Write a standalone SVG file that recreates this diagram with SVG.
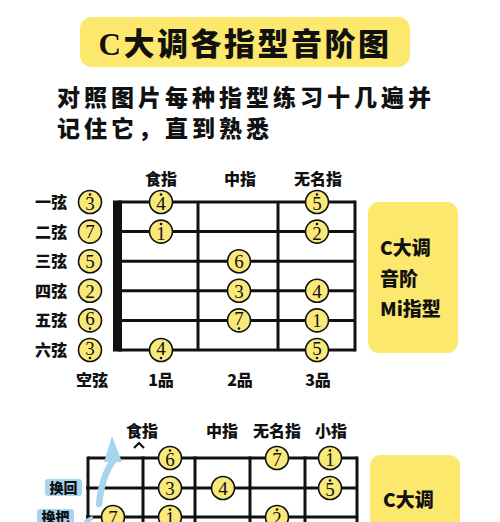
<svg xmlns="http://www.w3.org/2000/svg" width="500" height="522" viewBox="0 0 500 522">
<defs>
<style>
.cjk{font-family:"Noto Sans CJK SC","Noto Sans",sans-serif;font-weight:900;fill:#111}
.lbl{font-size:16px;text-anchor:middle}
.ln{stroke:#111;stroke-width:3;fill:none}
.nc{fill:#f9e97b;stroke:#111;stroke-width:1.6}
.nt{font-family:"Liberation Serif","DejaVu Serif",serif;font-size:19px;fill:#111;text-anchor:middle}
.dot{fill:#111}
.ybox{fill:#fbe86c}
.blue{fill:#a6d6ee}
</style>
</defs>
<rect width="500" height="522" fill="#fff"/>
<g id="title">
<rect class="ybox" x="80" y="17" width="330" height="50" rx="12"/>
<text x="245" y="55" class="cjk" font-size="31" text-anchor="middle" letter-spacing="2.5"><tspan font-family="Liberation Serif" font-weight="bold">C</tspan>大调各指型音阶图</text>
</g>
<g id="subtitle" class="cjk" font-size="23" letter-spacing="4">
<text x="57" y="106">对照图片每种指型练习十几遍并</text>
<text x="57" y="137">记住它，直到熟悉</text>
</g>
<g id="fretboard1">
<line class="ln" x1="118" y1="202" x2="355" y2="202"/>
<line class="ln" x1="118" y1="231.6" x2="355" y2="231.6"/>
<line class="ln" x1="118" y1="261.2" x2="355" y2="261.2"/>
<line class="ln" x1="118" y1="290.8" x2="355" y2="290.8"/>
<line class="ln" x1="118" y1="320.4" x2="355" y2="320.4"/>
<line class="ln" x1="118" y1="350" x2="355" y2="350"/>
<line class="ln" x1="198" y1="202" x2="198" y2="350"/>
<line class="ln" x1="278" y1="202" x2="278" y2="350"/>
<line class="ln" x1="355" y1="200.5" x2="355" y2="351.5"/>
<rect x="113" y="200.5" width="9" height="151" fill="#111"/>
</g>
<g id="labels1" class="cjk lbl">
<text x="51" y="208">一弦</text>
<text x="51" y="237.5">二弦</text>
<text x="51" y="267">三弦</text>
<text x="51" y="296.5">四弦</text>
<text x="51" y="326">五弦</text>
<text x="51" y="355.5">六弦</text>
<text x="161" y="185">食指</text>
<text x="240" y="185">中指</text>
<text x="318" y="185">无名指</text>
<text x="92" y="386">空弦</text>
<text x="161" y="386">1品</text>
<text x="240" y="386">2品</text>
<text x="318" y="386">3品</text>
</g>
<g id="notes1">
<g><circle class="nc" cx="90" cy="202" r="11.5"/><text class="nt" x="90" y="210">3</text><circle class="dot" cx="90" cy="194.5" r="1.3"/></g>
<g><circle class="nc" cx="161" cy="202" r="11.5"/><text class="nt" x="161" y="210">4</text><circle class="dot" cx="161" cy="194.5" r="1.3"/></g>
<g><circle class="nc" cx="317" cy="202" r="11.5"/><text class="nt" x="317" y="210">5</text><circle class="dot" cx="317" cy="194.5" r="1.3"/></g>
<g><circle class="nc" cx="90" cy="231.6" r="11.5"/><text class="nt" x="90" y="238">7</text></g>
<g><circle class="nc" cx="161" cy="231.6" r="11.5"/><text class="nt" x="161" y="240">1</text><circle class="dot" cx="161" cy="224" r="1.3"/></g>
<g><circle class="nc" cx="317" cy="231.6" r="11.5"/><text class="nt" x="317" y="240">2</text><circle class="dot" cx="317" cy="224" r="1.3"/></g>
<g><circle class="nc" cx="90" cy="261.2" r="11.5"/><text class="nt" x="90" y="268">5</text></g>
<g><circle class="nc" cx="239" cy="261.2" r="11.5"/><text class="nt" x="239" y="268">6</text></g>
<g><circle class="nc" cx="90" cy="290.8" r="11.5"/><text class="nt" x="90" y="297.5">2</text></g>
<g><circle class="nc" cx="239" cy="290.8" r="11.5"/><text class="nt" x="239" y="297.5">3</text></g>
<g><circle class="nc" cx="317" cy="290.8" r="11.5"/><text class="nt" x="317" y="297.5">4</text></g>
<g><circle class="nc" cx="90" cy="320.4" r="11.5"/><text class="nt" x="90" y="325">6</text><circle class="dot" cx="90" cy="328.5" r="1.3"/></g>
<g><circle class="nc" cx="239" cy="320.4" r="11.5"/><text class="nt" x="239" y="325">7</text><circle class="dot" cx="239" cy="328.5" r="1.3"/></g>
<g><circle class="nc" cx="317" cy="320.4" r="11.5"/><text class="nt" x="317" y="327">1</text></g>
<g><circle class="nc" cx="90" cy="350" r="11.5"/><text class="nt" x="90" y="354.5">3</text><circle class="dot" cx="90" cy="358" r="1.3"/></g>
<g><circle class="nc" cx="161" cy="350" r="11.5"/><text class="nt" x="161" y="354.5">4</text><circle class="dot" cx="161" cy="358" r="1.3"/></g>
<g><circle class="nc" cx="317" cy="350" r="11.5"/><text class="nt" x="317" y="354.5">5</text><circle class="dot" cx="317" cy="358" r="1.3"/></g>
</g>
<g id="box1">
<rect class="ybox" x="368" y="202" width="90" height="151" rx="11"/>
<g class="cjk" font-size="19">
<text x="380" y="255">C大调</text>
<text x="380" y="286">音阶</text>
<text x="380" y="316">Mi指型</text>
</g>
</g>
<g id="fretboard2">
<line class="ln" x1="88" y1="458" x2="357" y2="458"/>
<line class="ln" x1="86" y1="488" x2="357" y2="488"/>
<line class="ln" x1="86" y1="517" x2="357" y2="517"/>
<line class="ln" x1="88" y1="456.5" x2="88" y2="522"/>
<line class="ln" x1="143" y1="456.5" x2="143" y2="522"/>
<line class="ln" x1="195" y1="456.5" x2="195" y2="522"/>
<line class="ln" x1="250" y1="456.5" x2="250" y2="522"/>
<line class="ln" x1="305" y1="456.5" x2="305" y2="522"/>
<line class="ln" x1="357" y1="456.5" x2="357" y2="522"/>
</g>
<g id="shift-arrow">
<path d="M99 504 Q102 476 113 461" fill="none" stroke="#a6d6ee" stroke-width="6.5" stroke-linecap="round"/>
<polygon class="blue" points="112,436 104,462 122,462"/>
<path d="M85 522 Q89 519 93 518" fill="none" stroke="#a6d6ee" stroke-width="4"/>
</g>
<g id="labels2" class="cjk lbl">
<text x="142" y="437">食指</text>
<text x="222" y="437">中指</text>
<text x="277" y="437">无名指</text>
<text x="331" y="437">小指</text>
<path d="M134 448 L139 443 L144 448" fill="none" stroke="#111" stroke-width="2.2"/>
<rect class="blue" x="45" y="479" width="37" height="17" rx="3"/>
<text x="63.5" y="493" font-size="14">换回</text>
<rect class="blue" x="37" y="509" width="37" height="17" rx="3"/>
<text x="55.5" y="522" font-size="14">换把</text>
</g>
<g id="notes2">
<g><circle class="nc" cx="170" cy="458" r="11.5"/><text class="nt" x="170" y="466">6</text><circle class="dot" cx="170" cy="450.5" r="1.3"/></g>
<g><circle class="nc" cx="277" cy="458" r="11.5"/><text class="nt" x="277" y="466">7</text><circle class="dot" cx="277" cy="450.5" r="1.3"/></g>
<g><circle class="nc" cx="330" cy="458" r="11.5"/><text class="nt" x="330" y="466">1</text><circle class="dot" cx="330" cy="450.5" r="1.3"/></g>
<g><circle class="nc" cx="170" cy="488" r="11.5"/><text class="nt" x="170" y="494.5">3</text></g>
<g><circle class="nc" cx="223" cy="488" r="11.5"/><text class="nt" x="223" y="494.5">4</text></g>
<g><circle class="nc" cx="330" cy="488" r="11.5"/><text class="nt" x="330" y="496">5</text><circle class="dot" cx="330" cy="480.5" r="1.3"/></g>
<g><circle class="nc" cx="113" cy="517" r="11.5"/><text class="nt" x="113" y="523.5">7</text></g>
<g><circle class="nc" cx="170" cy="517" r="11.5"/><text class="nt" x="170" y="525">1</text><circle class="dot" cx="170" cy="509.5" r="1.3"/></g>
<g><circle class="nc" cx="277" cy="517" r="11.5"/><text class="nt" x="277" y="525">2</text><circle class="dot" cx="277" cy="509.5" r="1.3"/></g>
</g>
<g id="box2">
<rect class="ybox" x="370" y="455" width="90" height="80" rx="11"/>
<text x="383" y="507" class="cjk" font-size="19">C大调</text>
</g>
</svg>
